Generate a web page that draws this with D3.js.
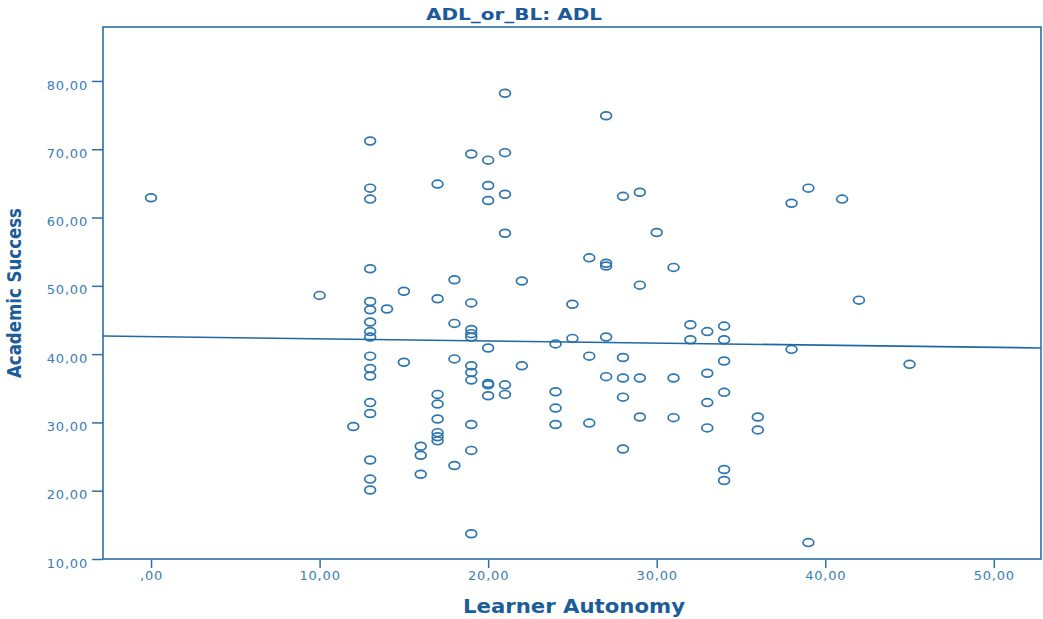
<!DOCTYPE html>
<html>
<head>
<meta charset="utf-8">
<script src="https://cdn.jsdelivr.net/npm/d3@7"></script>
<style>
  html, body { margin: 0; padding: 0; background: #ffffff; }
  svg { display: block; }
</style>
</head>
<body>
<svg id="chart" width="1043" height="619"></svg>
<script>
// ---- Data ----
const chartTitle = "ADL_or_BL: ADL";
const xAxisTitle = "Learner Autonomy";
const yAxisTitle = "Academic Success";

const learnerAutonomy = [
  0,
  10,
  12,
  13,13,13,13,13,13,13,13,13,13,13,13,13,13,13,13,13,
  14,
  15,15,
  16,16,16,
  17,17,17,17,17,17,17,17,
  18,18,18,18,
  19,19,19,19,19,19,19,19,19,19,19,
  20,20,20,20,20,20,20,
  21,21,21,21,21,21,
  22,22,
  24,24,24,24,
  25,25,
  26,26,26,
  27,27,27,27,27,
  28,28,28,28,28,
  29,29,29,29,
  30,
  31,31,31,
  32,32,
  33,33,33,33,
  34,34,34,34,34,34,
  36,36,
  38,38,
  39,39,
  41,
  42,
  45
];
const academicSuccess = [
  62.9,
  48.6,
  29.4,
  71.2,64.3,62.7,52.5,47.7,46.5,44.7,43.3,42.5,39.7,37.9,36.8,32.9,31.3,24.5,21.7,20.1,
  46.6,
  49.2,38.8,
  26.5,25.2,22.4,
  64.9,48.1,34.1,32.7,30.5,28.5,27.9,27.3,
  50.9,44.5,39.3,23.7,
  69.3,47.5,43.6,43.0,42.5,38.3,37.3,36.2,29.7,25.9,13.7,
  68.4,64.7,62.5,40.9,35.7,35.5,33.9,
  78.2,69.5,63.4,57.7,35.5,34.1,
  50.7,38.3,
  41.5,34.5,32.1,29.7,
  47.3,42.3,
  54.1,39.7,29.9,
  74.9,53.3,52.9,42.5,36.7,
  63.1,39.5,36.5,33.7,26.1,
  63.7,50.1,36.5,30.8,
  57.8,
  52.7,36.5,30.7,
  44.3,42.1,
  43.3,37.2,32.9,29.2,
  44.1,42.1,39.0,34.4,23.1,21.5,
  30.8,28.9,
  62.1,40.7,
  64.3,12.4,
  62.7,
  47.9,
  38.5
];

// Fit line (linear)
const fitIntercept = 42.56;
const fitSlope = -0.0314;

const xTickValues = [0, 10, 20, 30, 40, 50];
const xTickLabels = [",00", "10,00", "20,00", "30,00", "40,00", "50,00"];
const yTickValues = [10, 20, 30, 40, 50, 60, 70, 80];
const yTickLabels = ["10,00", "20,00", "30,00", "40,00", "50,00", "60,00", "70,00", "80,00"];

const xDomain = [-2.85, 52.8];
const yDomain = [10, 87.9];

// ---- Layout ----
const plot = { left: 103, top: 27, right: 1041, bottom: 559 };
const C = {
  title: "#1c5a97",
  axisTitle: "#1c5d99",
  tickText: "#3a7db5",
  axis: "#2d70a9",
  point: "#2f76ae",
  line: "#1f68a2"
};

const svg = d3.select("#chart");

const x = d3.scaleLinear().domain(xDomain).range([plot.left, plot.right]);
const y = d3.scaleLinear().domain(yDomain).range([plot.bottom, plot.top]);

// Clip path for plot area
svg.append("defs").append("clipPath").attr("id", "plotClip")
  .append("rect")
  .attr("x", plot.left).attr("y", plot.top)
  .attr("width", plot.right - plot.left).attr("height", plot.bottom - plot.top);

// Frame
svg.append("rect")
  .attr("x", plot.left).attr("y", plot.top)
  .attr("width", plot.right - plot.left).attr("height", plot.bottom - plot.top)
  .attr("fill", "none").attr("stroke", C.axis).attr("stroke-width", 1.6);

// Y axis
const yAxis = d3.axisLeft(y)
  .tickValues(yTickValues)
  .tickFormat((d, i) => yTickLabels[i])
  .tickSize(11).tickPadding(4);
const gy = svg.append("g").attr("transform", `translate(${plot.left},0)`).call(yAxis);
gy.select(".domain").remove();
gy.selectAll(".tick line").attr("stroke", C.axis).attr("stroke-width", 1.5);
gy.selectAll(".tick text")
  .attr("fill", C.tickText)
  .attr("font-family", "'DejaVu Sans', Verdana, sans-serif")
  .attr("font-size", 13)
  .attr("letter-spacing", 0.8)
  .attr("dy", "0.62em");

// X axis
const xAxis = d3.axisBottom(x)
  .tickValues(xTickValues)
  .tickFormat((d, i) => xTickLabels[i])
  .tickSize(8).tickPadding(3);
const gx = svg.append("g").attr("transform", `translate(0,${plot.bottom + 1})`).call(xAxis);
gx.select(".domain").remove();
gx.selectAll(".tick line").attr("stroke", C.axis).attr("stroke-width", 1.5);
gx.selectAll(".tick text")
  .attr("fill", C.tickText)
  .attr("font-family", "'DejaVu Sans', Verdana, sans-serif")
  .attr("font-size", 13)
  .attr("letter-spacing", 0.8);

// Points
const pts = learnerAutonomy.map((v, i) => ({ x: v, y: academicSuccess[i] }));
svg.append("g").attr("clip-path", "url(#plotClip)")
  .selectAll("ellipse").data(pts).enter().append("ellipse")
  .attr("cx", d => x(d.x))
  .attr("cy", d => y(d.y))
  .attr("rx", 5.4).attr("ry", 3.9)
  .attr("fill", "none")
  .attr("stroke", C.point)
  .attr("stroke-width", 1.7);

// Fit line
const fitPts = xDomain.map(v => ({ x: v, y: fitIntercept + fitSlope * v }));
svg.append("path")
  .attr("clip-path", "url(#plotClip)")
  .attr("d", d3.line().x(d => x(d.x)).y(d => y(d.y))(fitPts))
  .attr("fill", "none").attr("stroke", C.line).attr("stroke-width", 1.6);

// Title
svg.append("text")
  .attr("x", 514).attr("y", 20)
  .attr("text-anchor", "middle")
  .attr("font-family", "'DejaVu Sans', Verdana, sans-serif")
  .attr("font-weight", "bold").attr("font-size", 16)
  .attr("textLength", 176).attr("lengthAdjust", "spacingAndGlyphs")
  .attr("fill", C.title)
  .text(chartTitle);

// X axis title
svg.append("text")
  .attr("x", 574).attr("y", 613)
  .attr("text-anchor", "middle")
  .attr("font-family", "'DejaVu Sans', Verdana, sans-serif")
  .attr("font-weight", "bold").attr("font-size", 19)
  .attr("textLength", 222).attr("lengthAdjust", "spacingAndGlyphs")
  .attr("fill", C.axisTitle)
  .text(xAxisTitle);

// Y axis title
svg.append("text")
  .attr("transform", "translate(21,293) rotate(-90)")
  .attr("text-anchor", "middle")
  .attr("font-family", "'Liberation Sans Narrow', 'DejaVu Sans Condensed', 'DejaVu Sans', sans-serif")
  .attr("font-weight", "bold").attr("font-size", 20)
  .attr("textLength", 170).attr("lengthAdjust", "spacingAndGlyphs")
  .attr("fill", C.axisTitle)
  .text(yAxisTitle);
</script>
</body>
</html>
